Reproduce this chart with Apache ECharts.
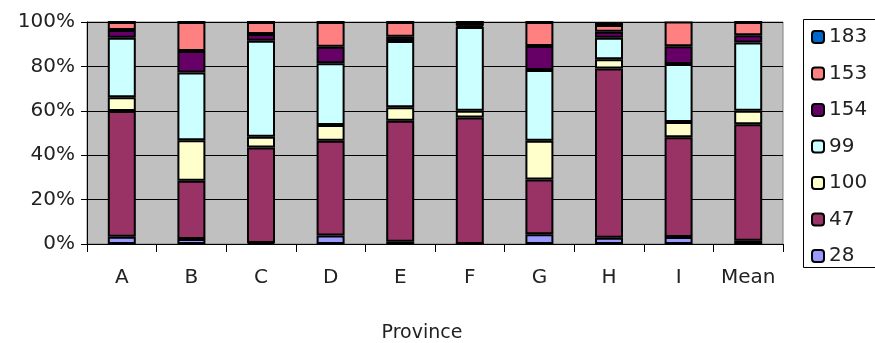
<!DOCTYPE html>
<html><head><meta charset="utf-8">
<script src="https://cdn.jsdelivr.net/npm/echarts@6/dist/echarts.min.js"></script>
<style>html,body{margin:0;padding:0;background:#fff}#c{width:875px;height:343px}</style>
</head><body><div id="c"></div>
<script>
const categories = ['A','B','C','D','E','F','G','H','I','Mean'];
const s28  = [3.3, 2.3, 0.5, 3.8, 1.0, 0.0, 4.4, 2.8, 3.2, 1.5];
const s47  = [56.6, 26.2, 43.0, 42.7, 54.5, 57.0, 24.7, 76.3, 44.9, 52.4];
const s100 = [6.2, 18.2, 4.8, 7.1, 6.1, 3.0, 17.4, 4.1, 6.9, 6.1];
const s99  = [26.8, 30.5, 43.3, 27.8, 29.8, 37.8, 31.9, 9.7, 26.1, 30.8];
const s154 = [3.5, 9.7, 3.0, 7.5, 2.0, 0.5, 10.8, 2.7, 8.0, 3.2];
const s153 = [3.6, 13.1, 5.4, 11.1, 6.6, 1.7, 10.8, 3.0, 11.1, 6.0];
const s183 = [0, 0, 0, 0, 0, 0, 0, 1.4, 0, 0];
const yTicks = [0, 20, 40, 60, 80, 100];
const seriesDefs = [
  ['28', s28, '#9999FF'],
  ['47', s47, '#993366'],
  ['100', s100, '#FFFFCC'],
  ['99', s99, '#CCFFFF'],
  ['154', s154, '#660066'],
  ['153', s153, '#FF8080'],
  ['183', s183, '#0066CC']
];
const font = 'DejaVu Sans';
const chart = echarts.init(document.getElementById('c'), null, {renderer:'canvas'});
chart.setOption({
  animation: false,
  graphic: [{
    type: 'rect', z: 1, silent: true,
    shape: {x: 803.5, y: 19.5, width: 120, height: 248},
    style: {fill: '#fff', stroke: '#000', lineWidth: 1}
  }],
  grid: {left: 87, right: 92, top: 22, bottom: 99, outerBoundsMode: 'none', containLabel: false,
         show: true, backgroundColor: '#C0C0C0', borderColor: '#808080', borderWidth: 1},
  legend: {
    orient: 'vertical', left: 803, top: 19, z: 5,
    data: ['183','153','154','99','100','47','28'],
    itemWidth: 12, itemHeight: 12, itemGap: 16.5,
    padding: [8, 10, 1, 8],
    textStyle: {fontFamily: font, fontSize: 20, color: '#222', lineHeight: 20},
    selectedMode: false
  },
  xAxis: {
    type: 'category', data: categories,
    axisLine: {lineStyle: {color: '#000', width: 1}},
    axisTick: {show: true, length: 8, lineStyle: {color: '#000'}},
    axisLabel: {fontFamily: font, fontSize: 20, color: '#222', margin: 24, interval: 0},
    name: 'Province', nameLocation: 'middle', nameGap: 80,
    nameTextStyle: {fontFamily: font, fontSize: 19, color: '#222', padding: [0, 26, 0, 0]}
  },
  yAxis: {
    type: 'value', min: yTicks[0], max: yTicks[yTicks.length-1], interval: 20,
    axisLine: {show: true, lineStyle: {color: '#000'}},
    axisTick: {show: true, length: 6, lineStyle: {color: '#000'}},
    splitLine: {lineStyle: {color: '#000', width: 1}},
    axisLabel: {fontFamily: font, fontSize: 20, color: '#222', margin: 12, formatter: '{value}%'}
  },
  series: seriesDefs.map(([name, data, color]) => ({
    name, type: 'bar', stack: 'all', data, barWidth: 28,
    itemStyle: {color, borderColor: '#000', borderWidth: 2}
  }))
});
</script></body></html>
